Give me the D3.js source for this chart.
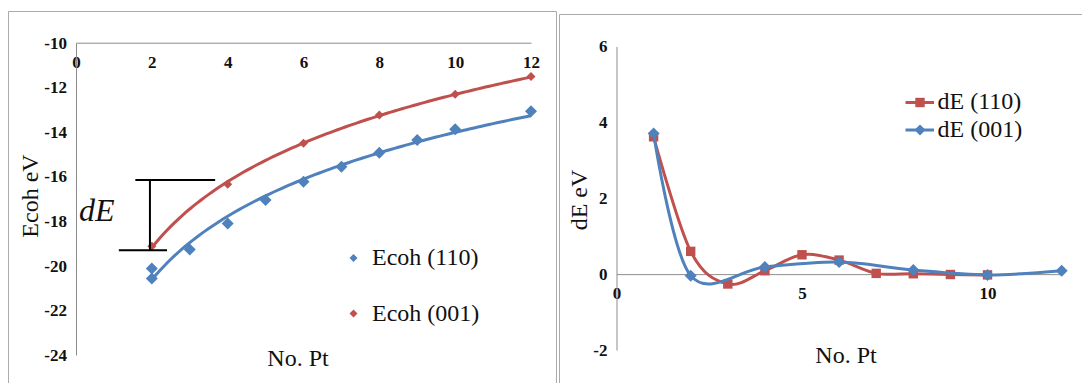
<!DOCTYPE html>
<html>
<head>
<meta charset="utf-8">
<script src="https://cdn.jsdelivr.net/npm/d3@7"></script>
</head>
<body style="margin:0;background:#fff">
<svg id="chart" width="1082" height="383" font-family="Liberation Serif" style="display:block"></svg>
<script>
// ---------- DATA ----------
// Left chart: cohesive energy vs number of Pt atoms
const ecoh110X = [2, 2, 3, 4, 5, 6, 7, 8, 9, 10, 12];
const ecoh110Y = [-20.12, -20.57, -19.27, -18.10, -17.05, -16.23, -15.56, -14.93, -14.36, -13.88, -13.07];
const ecoh001X = [2, 4, 6, 8, 10, 12];
const ecoh001Y = [-19.12, -16.34, -14.51, -13.24, -12.31, -11.52];
const leftXTicks = [0, 2, 4, 6, 8, 10, 12];
const leftYTicks = [-10, -12, -14, -16, -18, -20, -22, -24];

// Right chart: dE vs number of Pt atoms
const dE110X = [1, 2, 3, 4, 5, 6, 7, 8, 9, 10];
const dE110Y = [3.62, 0.60, -0.26, 0.09, 0.51, 0.37, 0.02, 0.01, -0.01, -0.02];
const dE001X = [1, 2, 4, 6, 8, 10, 12];
const dE001Y = [3.71, -0.04, 0.19, 0.32, 0.11, -0.02, 0.09];
const rightXTicks = [0, 5, 10];
const rightYTicks = [-2, 0, 2, 4, 6];

const legendLeft = ["Ecoh (110)", "Ecoh (001)"];
const legendRight = ["dE (110)", "dE (001)"];

// ---------- STYLE ----------
const BLUE = "#4f81bd", RED = "#c0504d";
const AXIS = "#8c8c8c", FRAME = "#ababab";
const SERIF = "Liberation Serif";

const svg = d3.select("#chart");

// panel frames
svg.append("path").attr("d", "M8.5,383 V11.5 H556.5 V383").attr("fill", "none").attr("stroke", FRAME);
svg.append("path").attr("d", "M559.5,383 V14.5 H1082").attr("fill", "none").attr("stroke", FRAME);

function styleAxis(g) {
  g.attr("font-family", SERIF).attr("font-size", 17);
  g.select(".domain").attr("stroke", AXIS).attr("stroke-width", 1);
  g.selectAll(".tick line").remove();
  g.selectAll(".tick text").attr("font-weight", "bold").attr("fill", "#111").attr("font-family", SERIF);
}
// square rotated 45 degrees (Excel-like diamond), half-diagonal r
const diamondSym = r => `M0,${-r}L${r},0L0,${r}L${-r},0Z`;
function addText(x, y, size, str, anchor) {
  return svg.append("text").attr("x", x).attr("y", y).attr("font-size", size)
    .attr("text-anchor", anchor || "start").attr("fill", "#111")
    .attr("font-family", SERIF).text(str);
}

// ---------- LEFT CHART ----------
const xL = d3.scaleLinear().domain([0, 12]).range([76, 531]);
const yL = d3.scaleLinear().domain([-24, -10]).range([355, 42.7]);

svg.append("g").attr("transform", `translate(0,${yL(-10)})`)
  .call(d3.axisBottom(xL).tickValues(leftXTicks).tickSize(0).tickPadding(13.5).tickFormat(d3.format("d")))
  .call(styleAxis);
svg.append("g").attr("transform", `translate(${xL(0)},0)`)
  .call(d3.axisLeft(yL).tickValues(leftYTicks).tickSize(0).tickPadding(9).tickFormat(d => String(d)))
  .call(styleAxis);

function logFit(xs, ys) {
  const lx = xs.map(Math.log);
  const mx = d3.mean(lx), my = d3.mean(ys);
  let num = 0, den = 0;
  lx.forEach((v, i) => { num += (v - mx) * (ys[i] - my); den += (v - mx) * (v - mx); });
  const b = num / den, a = my - b * mx;
  return x => a + b * Math.log(x);
}
const fit110 = logFit(ecoh110X, ecoh110Y);
const fit001 = logFit(ecoh001X, ecoh001Y);
const fitXs = d3.range(2, 12.0001, 0.1);
const lineL = d3.line().x(d => xL(d[0])).y(d => yL(d[1]));

svg.append("path").datum(fitXs.map(x => [x, fit110(x)]))
  .attr("d", lineL).attr("fill", "none").attr("stroke", BLUE).attr("stroke-width", 3);
svg.append("path").datum(fitXs.map(x => [x, fit001(x)]))
  .attr("d", lineL).attr("fill", "none").attr("stroke", RED).attr("stroke-width", 3);

svg.append("g").selectAll("path").data(ecoh110X.map((x, i) => [x, ecoh110Y[i]])).join("path")
  .attr("transform", d => `translate(${xL(d[0])},${yL(d[1])})`)
  .attr("d", diamondSym(6)).attr("fill", BLUE);
svg.append("g").selectAll("path").data(ecoh001X.map((x, i) => [x, ecoh001Y[i]])).join("path")
  .attr("transform", d => `translate(${xL(d[0])},${yL(d[1])})`)
  .attr("d", diamondSym(4.5)).attr("fill", RED);

// dE bracket annotation (in data units)
const ann = svg.append("g").attr("stroke", "#000").attr("stroke-width", 2);
ann.append("line").attr("x1", xL(1.565)).attr("x2", xL(3.67)).attr("y1", yL(-16.16)).attr("y2", yL(-16.16));
ann.append("line").attr("x1", xL(1.95)).attr("x2", xL(1.95)).attr("y1", yL(-16.16)).attr("y2", yL(-19.3));
ann.append("line").attr("x1", xL(1.13)).attr("x2", xL(2.4)).attr("y1", yL(-19.3)).attr("y2", yL(-19.3));
addText(79, 221, 32, "dE").attr("font-style", "italic");

// left titles
addText(0, 0, 24, "Ecoh eV", "middle").attr("transform", "translate(38,196) rotate(-90)");
addText(298, 366, 24, "No. Pt", "middle");

// left legend
[[BLUE, 258, 265], [RED, 313.5, 320.5]].forEach((c, i) => {
  svg.append("path").attr("transform", `translate(353.5,${c[1]})`).attr("d", diamondSym(4)).attr("fill", c[0]);
  addText(372, c[2], 24, legendLeft[i]);
});

// ---------- RIGHT CHART ----------
const xR = d3.scaleLinear().domain([0, 12]).range([616.5, 1061.7]);
const yR = d3.scaleLinear().domain([-2, 6]).range([350, 46.5]);

svg.append("g").attr("transform", `translate(0,${yR(0)})`)
  .call(d3.axisBottom(xR).tickValues(rightXTicks).tickSize(0).tickPadding(12.5).tickFormat(d3.format("d")))
  .call(styleAxis);
svg.append("g").attr("transform", `translate(${xR(0)},0)`)
  .call(d3.axisLeft(yR).tickValues(rightYTicks).tickSize(0).tickPadding(9).tickFormat(d => String(d)))
  .call(styleAxis);

const lineR = d3.line().x(d => xR(d[0])).y(d => yR(d[1])).curve(d3.curveCardinal.tension(0));
const red = dE110X.map((x, i) => [x, dE110Y[i]]);
const blue = dE001X.map((x, i) => [x, dE001Y[i]]);

svg.append("path").datum(red).attr("d", lineR).attr("fill", "none").attr("stroke", RED).attr("stroke-width", 3);
svg.append("g").selectAll("rect").data(red).join("rect")
  .attr("x", d => xR(d[0]) - 4.7).attr("y", d => yR(d[1]) - 4.7)
  .attr("width", 9.4).attr("height", 9.4).attr("fill", RED);
svg.append("path").datum(blue).attr("d", lineR).attr("fill", "none").attr("stroke", BLUE).attr("stroke-width", 3);
svg.append("g").selectAll("path").data(blue).join("path")
  .attr("transform", d => `translate(${xR(d[0])},${yR(d[1])})`)
  .attr("d", diamondSym(6)).attr("fill", BLUE);

// right titles
addText(0, 0, 24, "dE eV", "middle").attr("transform", "translate(587,200) rotate(-90)");
addText(846, 363, 24, "No. Pt", "middle");

// right legend
svg.append("line").attr("x1", 905.5).attr("x2", 934).attr("y1", 102.5).attr("y2", 102.5).attr("stroke", RED).attr("stroke-width", 3);
svg.append("rect").attr("x", 915.3).attr("y", 97.8).attr("width", 9.4).attr("height", 9.4).attr("fill", RED);
addText(937.5, 108.5, 24, legendRight[0]);
svg.append("line").attr("x1", 905.5).attr("x2", 934).attr("y1", 130).attr("y2", 130).attr("stroke", BLUE).attr("stroke-width", 3);
svg.append("path").attr("transform", "translate(920,130)").attr("d", diamondSym(5.5)).attr("fill", BLUE);
addText(937.5, 136.5, 24, legendRight[1]);
</script>
</body>
</html>
